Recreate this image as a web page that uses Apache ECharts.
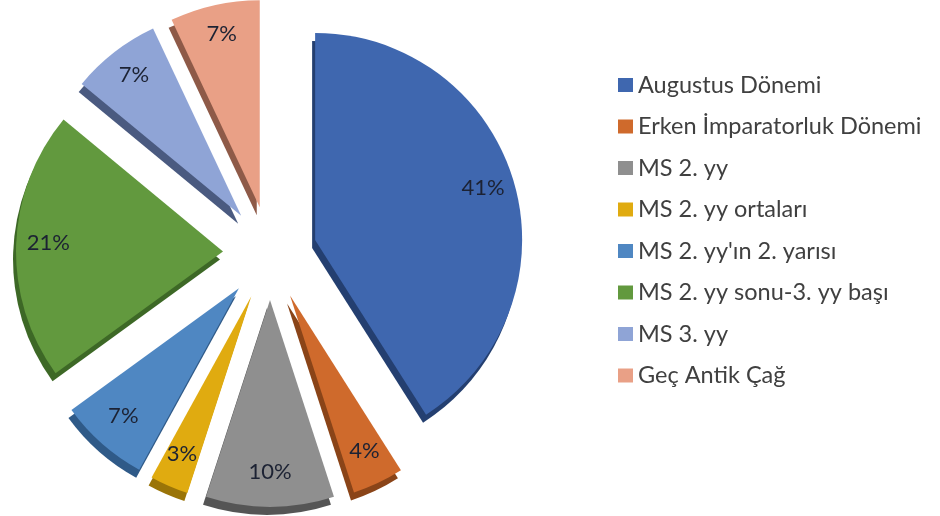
<!DOCTYPE html>
<html>
<head>
<meta charset="utf-8">
<script src="https://cdn.jsdelivr.net/npm/echarts@6/dist/echarts.min.js"></script>
<style>
html,body{margin:0;padding:0;background:#fff;}
#chart{width:940px;height:516px;}
</style>
</head>
<body>
<div id="chart"></div>
<script>
const categories = ['Augustus Dönemi','Erken İmparatorluk Dönemi','MS 2. yy','MS 2. yy ortaları',"MS 2. yy'ın 2. yarısı",'MS 2. yy sonu-3. yy başı','MS 3. yy','Geç Antik Çağ'];
const values = [41, 4, 10, 3, 7, 21, 7, 7];
const colors = ['#3F67AF','#CF6A2C','#8F8F8F','#E0AB10','#4F87C2','#62993E','#8FA4D6','#E9A086'];
const sideColors = ['#243F70','#8A4418','#555555','#9A7408','#2F5A88','#3D6826','#4A5A80','#8E5A48'];

const cx = 270, cy = 253, R = 207, OFF = 47;

const mk = (cols) => categories.map((n, i) => ({
  name: n, value: values[i], selected: true, itemStyle: { color: cols[i] }
}));

const chart = echarts.init(document.getElementById('chart'), null, { renderer: 'canvas' });
chart.setOption({
  animation: false,
  backgroundColor: '#fff',
  legend: {
    orient: 'vertical', left: 613, top: 68,
    itemWidth: 15, itemHeight: 14, itemGap: 17.5,
    icon: 'rect', selectedMode: false,
    data: categories,
    textStyle: { fontFamily: 'Lato', fontSize: 23.5, lineHeight: 23, color: '#404040' }
  },
  series: [
    {
      type: 'pie', name: 'side', center: [cx - 3, cy + 8], radius: [0, R],
      startAngle: 90, clockwise: true, selectedMode: 'multiple', selectedOffset: OFF,
      silent: true, label: { show: false }, labelLine: { show: false },
      legendHoverLink: false, z: 1,
      data: mk(sideColors).map(d => Object.assign(d, { name: d.name + ' ' }))
    },
    {
      type: 'pie', name: 'main', center: [cx, cy], radius: [0, R],
      startAngle: 90, clockwise: true, selectedMode: 'multiple', selectedOffset: OFF,
      silent: true, label: { show: false }, labelLine: { show: false }, z: 2,
      data: mk(colors)
    },
    {
      type: 'pie', name: 'labels', center: [cx, cy - 3], radius: [R * 0.66, R],
      startAngle: 90, clockwise: true, selectedMode: 'multiple', selectedOffset: OFF,
      silent: true, z: 3, legendHoverLink: false,
      itemStyle: { color: 'rgba(0,0,0,0)' },
      label: { show: true, position: 'inside', formatter: p => p.value + '%',
        fontFamily: 'Lato', fontSize: 22, color: '#1c2233' },
      labelLine: { show: false },
      data: categories.map((n, i) => ({ name: n + '  ', value: values[i], selected: true, itemStyle: { color: 'rgba(0,0,0,0)' } }))
    }
  ]
});
</script>
</body>
</html>
